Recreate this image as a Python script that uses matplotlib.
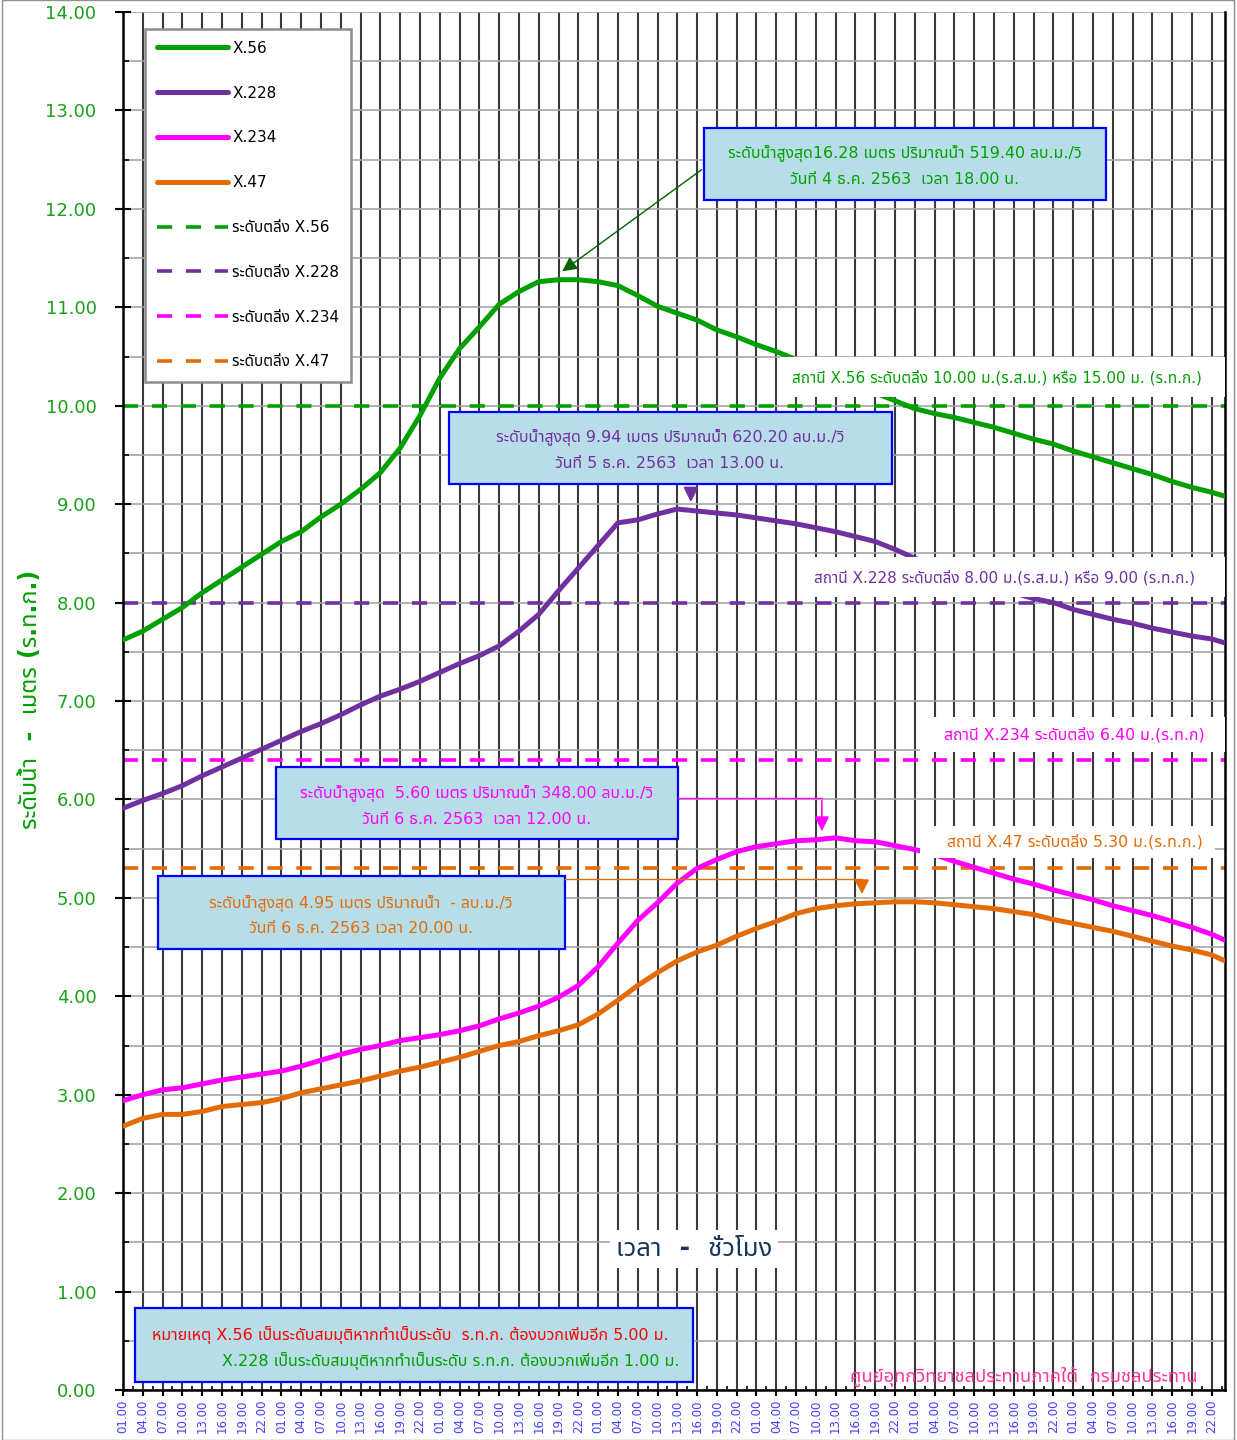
import numpy as np
import matplotlib
matplotlib.use('Agg')
import matplotlib.pyplot as plt
from matplotlib import font_manager, ft2font
from matplotlib.patches import Rectangle

# hourly index: 0 = 01.00 of 2 Dec 2563, read every 3 hours + last point
hours = list(range(0, 166, 3)) + [167]

x56 = [7.62, 7.71, 7.83, 7.95, 8.10, 8.23, 8.36, 8.49, 8.62, 8.72,
       8.87, 9.00, 9.15, 9.32, 9.57, 9.90, 10.28, 10.58, 10.80, 11.03,
       11.16, 11.26, 11.28, 11.28, 11.26, 11.22, 11.12, 11.01, 10.94, 10.87,
       10.77, 10.70, 10.62, 10.55, 10.47, 10.39, 10.30, 10.21, 10.13, 10.05,
       9.97, 9.92, 9.88, 9.83, 9.78, 9.72, 9.66, 9.61, 9.54, 9.48,
       9.42, 9.36, 9.30, 9.23, 9.17, 9.12, 9.08]
x228 = [5.91, 5.99, 6.06, 6.14, 6.24, 6.33, 6.42, 6.51, 6.60, 6.69,
        6.77, 6.86, 6.96, 7.05, 7.12, 7.20, 7.29, 7.38, 7.46, 7.56,
        7.71, 7.88, 8.12, 8.35, 8.58, 8.81, 8.84, 8.90, 8.95, 8.93,
        8.91, 8.89, 8.86, 8.83, 8.80, 8.76, 8.72, 8.67, 8.62, 8.54,
        8.45, 8.38, 8.31, 8.24, 8.17, 8.10, 8.04, 8.00, 7.93, 7.88,
        7.83, 7.79, 7.74, 7.70, 7.66, 7.63, 7.59]
x234 = [2.94, 3.00, 3.05, 3.07, 3.11, 3.15, 3.18, 3.21, 3.24, 3.29,
        3.35, 3.41, 3.46, 3.50, 3.55, 3.58, 3.61, 3.65, 3.70, 3.77,
        3.83, 3.90, 3.99, 4.11, 4.30, 4.54, 4.77, 4.95, 5.15, 5.30,
        5.39, 5.47, 5.52, 5.55, 5.58, 5.59, 5.61, 5.58, 5.57, 5.53,
        5.49, 5.44, 5.37, 5.31, 5.25, 5.19, 5.14, 5.08, 5.03, 4.98,
        4.92, 4.87, 4.82, 4.76, 4.70, 4.63, 4.57]
x47 = [2.68, 2.76, 2.80, 2.80, 2.83, 2.88, 2.90, 2.92, 2.96, 3.02,
       3.06, 3.10, 3.14, 3.19, 3.24, 3.28, 3.33, 3.38, 3.44, 3.50,
       3.54, 3.60, 3.65, 3.71, 3.82, 3.96, 4.11, 4.24, 4.36, 4.45,
       4.52, 4.61, 4.69, 4.76, 4.84, 4.89, 4.92, 4.94, 4.95, 4.96,
       4.96, 4.95, 4.93, 4.91, 4.89, 4.86, 4.83, 4.78, 4.74, 4.70,
       4.66, 4.61, 4.56, 4.51, 4.47, 4.42, 4.36]

stations = ['X.56', 'X.228', 'X.234', 'X.47']
bank_levels = [10.00, 8.00, 6.40, 5.30]
hour_labels = ['01.00', '04.00', '07.00', '10.00', '13.00', '16.00', '19.00', '22.00'] * 7

colors = ['#00A000', '#7030A0', '#FF00FF', '#E36C09']

# find fonts that have Thai glyphs (prefer loopless Noto Sans Thai), keep DejaVu for latin text
thai = set()
for f in font_manager.fontManager.ttflist:
    try:
        if 0x0E01 in ft2font.FT2Font(f.fname).get_charmap():
            thai.add(f.name)
    except Exception:
        pass
thai = sorted(thai, key=lambda n: (n != 'Noto Sans Thai', 'Looped' in n, n))
plt.rcParams['font.family'] = ['DejaVu Sans'] + thai

fig = plt.figure(figsize=(12.37, 14.4), dpi=100)
ax = fig.add_axes([123 / 1237, 50 / 1440, 1102 / 1237, 1378 / 1440])

series = [x56, x228, x234, x47]
lines = []
for name, vals, c in zip(stations, series, colors):
    ln, = ax.plot(hours, vals, color=c, lw=3.6, solid_capstyle='round', zorder=3, label=name)
    lines.append(ln)
for name, lvl, c in zip(stations, bank_levels, colors):
    ln = ax.axhline(lvl, color=c, lw=2.6, dashes=(4.2, 3.8), zorder=2, label='ระดับตลิ่ง ' + name)
    lines.append(ln)

ax.set_xlim(0, 167)
ax.set_ylim(0, 14)
ax.set_xticks(hours[:-1])
ax.set_xticklabels(hour_labels, rotation=90)
ax.set_xticks(np.arange(1.5, 167, 3), minor=True)
ax.set_yticks(np.arange(0, 14.01, 1))
ax.set_yticklabels(['%.2f' % v for v in np.arange(0, 14.01, 1)])
ax.set_yticks(np.arange(0.5, 14, 1), minor=True)

ax.tick_params(axis='x', which='major', direction='out', length=4, width=1.5,
               labelsize=8.5, labelcolor='#4040FF', pad=3)
ax.tick_params(axis='x', which='minor', direction='in', length=3, width=1.2)
ax.tick_params(axis='y', which='major', direction='inout', length=12, width=1.5,
               labelsize=13, labelcolor='#1AA01A', pad=13)
ax.tick_params(axis='y', which='minor', direction='in', length=4.5, width=1.2)

ax.set_axisbelow(True)
ax.grid(axis='x', which='major', color='#3A3A3A', lw=1.5)
ax.grid(axis='y', which='both', color='#A6A6A6', lw=1.2)
ax.spines['top'].set_visible(False)
for s in ['left', 'bottom', 'right']:
    ax.spines[s].set_linewidth(1.8)
    ax.spines[s].set_color('black')

leg = ax.legend(handles=lines, loc='upper left', bbox_to_anchor=(0.020, 0.988),
                borderaxespad=0, fontsize=11, handlelength=4.6, handletextpad=0.3,
                labelspacing=1.95, borderpad=0.8, fancybox=False, framealpha=1,
                edgecolor='#8C8C8C')
leg.get_frame().set_linewidth(1.8)
leg.set_zorder(8)


def px(x, y):
    # reference pixel -> data coords
    return (x - 123) / 6.6, (1390 - y) / 98.43


def box(x0, y0, x1, y1, fc='#B7DEE8', ec='#0000FF', lw=1.6, z=5):
    a = px(x0, y1)
    b = px(x1, y0)
    ax.add_patch(Rectangle(a, b[0] - a[0], b[1] - a[1], fc=fc, ec=ec, lw=lw, zorder=z))


def txt(x, y, s, c, size=11.4, **kw):
    ax.text(*px(x, y), s, color=c, fontsize=size, ha='center', va='center', zorder=6, **kw)


# peak boxes
box(704, 128, 1106, 200)
txt(905, 153, 'ระดับน้ำสูงสุด16.28 เมตร ปริมาณน้ำ 519.40 ลบ.ม./วิ', colors[0])
txt(905, 179, 'วันที่ 4 ธ.ค. 2563  เวลา 18.00 น.', colors[0])
ax.annotate('', xy=px(560, 273), xytext=px(704, 168),
            arrowprops=dict(arrowstyle='-|>', color='#006400', lw=1, mutation_scale=22), zorder=6)

box(449, 412, 892, 484)
txt(670, 437, 'ระดับน้ำสูงสุด 9.94 เมตร ปริมาณน้ำ 620.20 ลบ.ม./วิ', colors[1])
txt(670, 463, 'วันที่ 5 ธ.ค. 2563  เวลา 13.00 น.', colors[1])
ax.annotate('', xy=px(691, 505), xytext=px(691, 485),
            arrowprops=dict(arrowstyle='-|>', color=colors[1], lw=1.5, mutation_scale=22), zorder=6)

box(276, 767, 678, 839)
txt(477, 793, 'ระดับน้ำสูงสุด  5.60 เมตร ปริมาณน้ำ 348.00 ลบ.ม./วิ', colors[2])
txt(477, 819, 'วันที่ 6 ธ.ค. 2563  เวลา 12.00 น.', colors[2])
p0, p1 = px(678, 798), px(822, 798)
ax.plot([p0[0], p1[0]], [p0[1], p1[1]], color=colors[2], lw=1, zorder=6)
ax.annotate('', xy=px(822, 834), xytext=p1,
            arrowprops=dict(arrowstyle='-|>', color=colors[2], lw=1.2, mutation_scale=22), zorder=6)

box(158, 876, 565, 949)
txt(361, 903, 'ระดับน้ำสูงสุด 4.95 เมตร ปริมาณน้ำ  - ลบ.ม./วิ', colors[3])
txt(361, 928, 'วันที่ 6 ธ.ค. 2563 เวลา 20.00 น.', colors[3])
p0, p1 = px(565, 879), px(862, 879)
ax.plot([p0[0], p1[0]], [p0[1], p1[1]], color=colors[3], lw=1, zorder=6)
ax.annotate('', xy=px(862, 897), xytext=p1,
            arrowprops=dict(arrowstyle='-|>', color=colors[3], lw=1.2, mutation_scale=22), zorder=6)

# bank level labels on white
box(780, 357, 1225, 397, fc='white', ec='none', lw=0, z=4)
txt(997, 378, 'สถานี X.56 ระดับตลิ่ง 10.00 ม.(ร.ส.ม.) หรือ 15.00 ม. (ร.ท.ก.)', colors[0], size=11)
box(800, 557, 1225, 597, fc='white', ec='none', lw=0, z=4)
txt(1005, 578, 'สถานี X.228 ระดับตลิ่ง 8.00 ม.(ร.ส.ม.) หรือ 9.00 (ร.ท.ก.)', colors[1], size=11)
box(920, 717, 1225, 752, fc='white', ec='none', lw=0, z=4)
txt(1075, 735, 'สถานี X.234 ระดับตลิ่ง 6.40 ม.(ร.ท.ก)', colors[2])
box(920, 826, 1215, 858, fc='white', ec='none', lw=0, z=4)
txt(1075, 842, 'สถานี X.47 ระดับตลิ่ง 5.30 ม.(ร.ท.ก.)', colors[3])

# note box
box(135, 1308, 693, 1382)
ax.text(*px(152, 1335), 'หมายเหตุ X.56 เป็นระดับสมมุติหากทำเป็นระดับ  ร.ท.ก. ต้องบวกเพิ่มอีก 5.00 ม.',
        color='#FF0000', fontsize=11.5, ha='left', va='center', zorder=6)
ax.text(*px(222, 1361), 'X.228 เป็นระดับสมมุติหากทำเป็นระดับ ร.ท.ก. ต้องบวกเพิ่มอีก 1.00 ม.',
        color='#00A000', fontsize=11.5, ha='left', va='center', zorder=6)

txt(694, 1249, 'เวลา  -  ชั่วโมง', '#17365D', size=18.5, fontweight='bold',
    bbox=dict(fc='white', ec='none', pad=4))
txt(1024, 1377, 'ศูนย์อุทกวิทยาชลประทานภาคใต้  กรมชลประทาน', '#FF3399', size=13.2)

fig.text(30 / 1237, 0.514, 'ระดับน้ำ  -  เมตร (ร.ท.ก.)', rotation=90, color='#00A000',
         fontsize=17, fontweight='bold', ha='center', va='center')

fig.patches.append(Rectangle((0.0015, 0.0), 0.996, 1.0, transform=fig.transFigure,
                             fill=False, ec='#909090', lw=1))

fig.savefig('out.png', dpi=100)
